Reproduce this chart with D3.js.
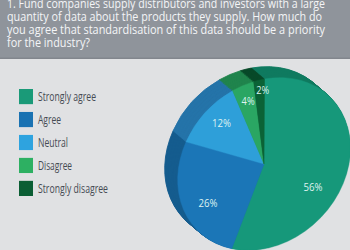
<!DOCTYPE html>
<html>
<head>
<meta charset="utf-8">
<script src="https://cdn.jsdelivr.net/npm/d3@7"></script>
<style>
html,body{margin:0;padding:0;background:#e0e1e3;}
svg{display:block;}
</style>
</head>
<body>
<svg id="chart" width="350" height="250"></svg>
<script>
// ---- data ----
const titleLines = [
  "1. Fund companies supply distributors and investors with a large",
  "quantity of data about the products they supply. How much do",
  "you agree that standardisation of this data should be a priority",
  "for the industry?"
];
const categories = ["Strongly agree", "Agree", "Neutral", "Disagree", "Strongly disagree"];
const values = [56, 26, 12, 4, 2];
const valueLabels = ["56%", "26%", "12%", "4%", "2%"];

// ---- styles ----
const faceColors = ["#16987a", "#1b76b7", "#2e9fd9", "#2aa663", "#0b6236"];
const sideColors = ["#107a60", "#155c8f", "#2574a9", "#20844d", "#084a29"];
const legendColors = ["#1a9a78", "#1a72b2", "#2ea3df", "#2db062", "#0b5e34"];
const titleWidths = [318, 315, 318, 83];
const legendWidths = [58, 23, 30, 34, 70];
// label placement tweaks: [radius, angle offset in degrees]
const labelLayout = [[55, 21], [69, -9], [58, 1], [64, 5], [73, 7.6]];

const svg = d3.select("#chart");
svg.append("rect").attr("width", 350).attr("height", 250).attr("fill", "#e0e1e3");

// header
svg.append("rect").attr("x", 0).attr("y", 0).attr("width", 350).attr("height", 59).attr("fill", "#8f949b");
svg.append("rect").attr("x", 0).attr("y", 57.5).attr("width", 350).attr("height", 1.5).attr("fill", "#82868d");
svg.append("g").selectAll("text").data(titleLines).join("text")
  .attr("x", 7)
  .attr("y", (d, i) => 7.5 + i * 13.2)
  .attr("textLength", (d, i) => titleWidths[i])
  .attr("lengthAdjust", "spacingAndGlyphs")
  .attr("font-family", "'Open Sans', sans-serif")
  .attr("font-size", 13.2)
  .attr("fill", "#f4f5f7")
  .text(d => d);

// legend
const yLeg = d3.scaleBand().domain(categories).range([89, 196]).paddingInner(0.34).paddingOuter(0);
const leg = svg.append("g");
leg.selectAll("rect").data(categories).join("rect")
  .attr("x", 19).attr("y", d => yLeg(d))
  .attr("width", 14).attr("height", yLeg.bandwidth())
  .attr("fill", (d, i) => legendColors[i]);
leg.selectAll("text").data(categories).join("text")
  .attr("x", 38)
  .attr("y", d => yLeg(d) + yLeg.bandwidth() / 2 + 4.6)
  .attr("textLength", (d, i) => legendWidths[i])
  .attr("lengthAdjust", "spacingAndGlyphs")
  .attr("font-family", "'Open Sans', sans-serif")
  .attr("font-size", 13)
  .attr("fill", "#464b53")
  .text(d => d);

// pie
const cx = 264, cy = 164;
const semiMajor = 94, semiMinor = 78;
const depth = [-13, -11];
const startOff = -5 * Math.PI / 180;
const pie = d3.pie().sort(null).value(d => d)
  .startAngle(startOff).endAngle(2 * Math.PI + startOff);
const arcs = pie(values);
const arc = d3.arc().innerRadius(0).outerRadius(1);
const tilt = `rotate(-45) scale(${semiMajor},${semiMinor}) rotate(45)`;

const pieG = svg.append("g");
const nLayers = 16;
for (let k = nLayers; k >= 1; k--) {
  const t = k / nLayers;
  pieG.append("g")
    .attr("transform", `translate(${cx + depth[0] * t},${cy + depth[1] * t}) ${tilt}`)
    .selectAll("path").data(arcs).join("path")
    .attr("d", arc)
    .attr("fill", (d, i) => d3.color(sideColors[i]).darker(k % 3 === 0 ? 0.08 : 0))
    .attr("stroke", (d, i) => sideColors[i])
    .attr("stroke-width", 0.01);
}
pieG.append("g")
  .attr("transform", `translate(${cx},${cy}) ${tilt}`)
  .selectAll("path").data(arcs).join("path")
  .attr("d", arc)
  .attr("fill", (d, i) => faceColors[i])
  .attr("stroke", (d, i) => faceColors[i])
  .attr("stroke-width", 0.005);

// labels
svg.append("g").selectAll("text").data(arcs).join("text")
  .attr("x", (d, i) => {
    const a = (d.startAngle + d.endAngle) / 2 + labelLayout[i][1] * Math.PI / 180;
    return cx + labelLayout[i][0] * Math.sin(a);
  })
  .attr("y", (d, i) => {
    const a = (d.startAngle + d.endAngle) / 2 + labelLayout[i][1] * Math.PI / 180;
    return cy - 2 - labelLayout[i][0] * Math.cos(a);
  })
  .attr("text-anchor", "middle")
  .attr("dominant-baseline", "central")
  .attr("font-family", "'Open Sans', sans-serif")
  .attr("font-size", 11.5)
  .attr("textLength", (d, i) => valueLabels[i].length === 3 ? 19 : 13)
  .attr("lengthAdjust", "spacingAndGlyphs")
  .attr("fill", "#dff3f1")
  .text((d, i) => valueLabels[i]);
</script>
</body>
</html>
